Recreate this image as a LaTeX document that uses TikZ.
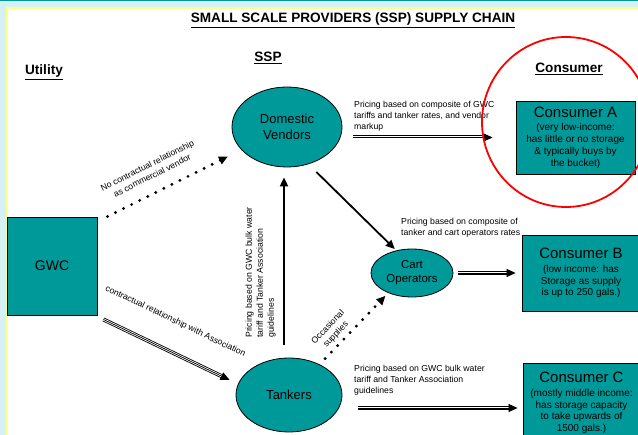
\documentclass[tikz,border=0pt]{standalone}
\usepackage{fontspec}
\setmainfont{Liberation Sans}
\usetikzlibrary{shapes.geometric,arrows.meta}
\definecolor{tealfill}{RGB}{0,153,153}
\definecolor{paleblue}{RGB}{214,241,244}
\definecolor{paleyellow}{RGB}{255,255,140}
\tikzset{
    heading/.style={font=\fontsize{13.6}{16}\selectfont\bfseries, inner sep=1pt},
    pricelbl/.style={font=\fontsize{8.7}{11}\selectfont, align=left, inner sep=1pt},
    provider/.style={ellipse, draw=black, line width=0.8pt, fill=tealfill, align=center, inner sep=0pt},
    buyer/.style={rectangle, draw=black, line width=0.9pt, fill=tealfill, align=center, inner sep=0pt,
        font=\fontsize{10}{11.7}\selectfont},
    tip/.style={-{Triangle[length=9pt,width=8pt]}},
    solidarrow/.style={tip, line width=1.8pt},
    dotarrow/.style={tip, line width=3.2pt, line cap=round, dash pattern=on 0pt off 9pt},
    triple/.style={draw=white, line width=2.3pt,
        preaction={draw=black, line width=4pt, shorten >=7pt},
        postaction={draw=black, line width=0.7pt, tip}},
}

\begin{document}
\begin{tikzpicture}[x=1pt, y=-1pt]
    \useasboundingbox (0,0) rectangle (638,435);
    %page background
    \fill[paleblue] (0,0) rectangle (638,435);
    \fill[tealfill] (0,0) rectangle (638,1.5);
    \filldraw[fill=white, draw=paleyellow, line width=1.5pt] (7,8) rectangle (650,450);
    %headings
    \node[heading] (title) at (353,20) {\underline{SMALL SCALE PROVIDERS (SSP) SUPPLY CHAIN}};
    \node[heading] (ssp) at (268,58) {\underline{SSP}};
    \node[heading] (utility) at (44,72) {\underline{Utility}};
    \node[heading] (consumer) at (569,69) {\underline{Consumer}};
    %utility and providers
    \node[buyer, minimum width=90pt, minimum height=98pt, font=\fontsize{14}{16}\selectfont] (gwc) at (52,266) {GWC};
    \node[provider, minimum width=110pt, minimum height=80pt, font=\fontsize{13}{15.5}\selectfont] (vendors) at (287,127) {Domestic\\Vendors};
    \node[provider, minimum width=82pt, minimum height=48pt, font=\fontsize{11.5}{14}\selectfont] (cart) at (412,273) {Cart\\Operators};
    \node[provider, minimum width=106pt, minimum height=74pt, font=\fontsize{13}{15.5}\selectfont] (tankers) at (289,395) {Tankers};
    %consumers
    \node[buyer, minimum width=119pt, minimum height=73pt] (conA) at (575.5,137.5)
        {{\fontsize{15}{17}\selectfont Consumer A}\\[2pt](very low-income:\\has little or no storage\\\& typically buys by\\the bucket)};
    \node[buyer, minimum width=118pt, minimum height=76pt] (conB) at (581,273)
        {{\fontsize{15}{17}\selectfont Consumer B}\\[2pt](low income: has\\Storage as supply\\is up to 250 gals.)};
    \node[buyer, minimum width=117pt, minimum height=80pt] (conC) at (581.5,403)
        {{\fontsize{15}{17}\selectfont Consumer C}\\[2pt](mostly middle income:\\has storage capacity\\to take upwards of\\1500 gals.)};
    %free ends of the triple arrows
    \coordinate (tipT) at ([shift={(-6,-15)}]tankers.west);
    \coordinate (fromA) at ([xshift=11pt]vendors.east);
    \coordinate (tipA) at ([xshift=-23pt]conA.west);
    \coordinate (tipB) at ([xshift=-6pt]conB.west);
    \coordinate (fromC) at ([xshift=16pt]tankers.east);
    \coordinate (tipC) at ([shift={(-5,5)}]conC.west);
    %utility to providers
    \draw[dotarrow, shorten >=15pt] ([xshift=10pt]gwc.north east) -- (vendors)
        node[pos=0.39, sloped, above=11pt, pricelbl, align=center] (novendor) {No contractual relationship\\as commercial vendor};
    \draw[triple] ([shift={(6,4)}]gwc.south east) -- (tipT)
        node[pos=0.47, sloped, above=23pt, pricelbl] (assoc) {contractual relationship with Association};
    %between providers
    \draw[solidarrow, shorten <=13pt, shorten >=10pt] ([xshift=-5pt]tankers.north) -- ([xshift=-5pt]tankers.north |- vendors.south);
    \node[pricelbl, rotate=90, anchor=south west] (priceV) at (277,339) {Pricing based on GWC bulk water\\tariff and Tanker Association\\guidelines};
    \draw[solidarrow, shorten <=11pt, shorten >=2pt] (vendors.300) -- (cart.125);
    \draw[dotarrow, shorten <=8pt, shorten >=4pt] (tankers.45) -- (cart.220)
        node[pos=0.33, sloped, above=2pt, pricelbl, align=center] (occasional) {Occasional\\supplies};
    %providers to consumers
    \draw[triple] (fromA |- tipA) -- (tipA);
    \node[pricelbl, anchor=north west] (priceA) at (353,100.5) {Pricing based on composite of GWC\\tariffs and tanker rates, and vendor\\markup};
    \draw[triple] ([xshift=5pt]cart.east) -- (tipB);
    \node[pricelbl, anchor=north west] (priceB) at (400,216.5) {Pricing based on composite of\\tanker and cart operators rates};
    \draw[triple] (fromC |- tipC) -- (tipC);
    \node[pricelbl, anchor=north west] (priceC) at (353,363.5) {Pricing based on GWC bulk water\\tariff and Tanker Association\\guidelines};
    %red ring round consumer A
    \draw[red, line width=1.8pt] (566,122) ellipse [x radius=84, y radius=85];
\end{tikzpicture}
\end{document}
